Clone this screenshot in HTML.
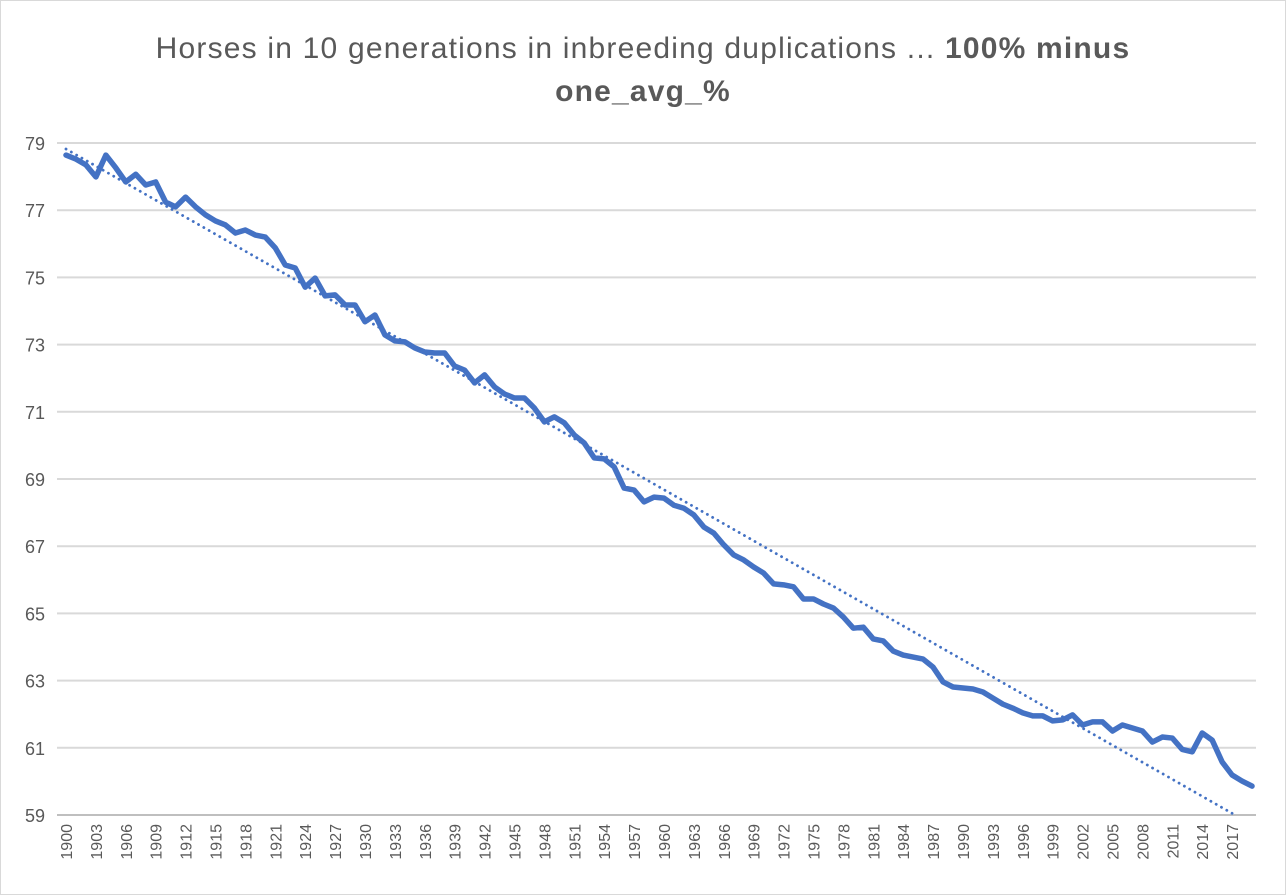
<!DOCTYPE html>
<html><head><meta charset="utf-8"><style>
html,body{margin:0;padding:0;background:#fff;}
svg{display:block;font-family:"Liberation Sans",sans-serif;}
</style></head><body>
<svg id="chart" width="1286" height="896" xmlns="http://www.w3.org/2000/svg">
<rect x="0.5" y="0.5" width="1285" height="894" fill="#fff" stroke="#d9d9d9"/>
<text x="643" y="58" text-anchor="middle" font-size="30" letter-spacing="1.2" fill="#595959">Horses in 10 generations in inbreeding duplications ... <tspan font-weight="bold">100% minus</tspan></text>
<text x="643" y="101" text-anchor="middle" font-size="30" letter-spacing="1.2" font-weight="bold" fill="#595959">one_avg_%</text>
<g id="grid"></g>
<g id="yt"></g>
<g id="xt"></g>
<g id="series"></g>
</svg>
<script>
const startYear = 1900;
const values = [78.64,78.52,78.35,77.99,78.64,78.26,77.84,78.07,77.75,77.84,77.24,77.1,77.39,77.1,76.86,76.68,76.56,76.32,76.41,76.26,76.2,75.88,75.37,75.28,74.71,74.98,74.45,74.48,74.18,74.18,73.68,73.88,73.29,73.11,73.08,72.9,72.78,72.75,72.75,72.36,72.24,71.86,72.1,71.74,71.53,71.41,71.41,71.11,70.7,70.85,70.67,70.31,70.07,69.63,69.6,69.36,68.73,68.67,68.32,68.46,68.43,68.22,68.13,67.93,67.57,67.39,67.04,66.74,66.59,66.38,66.2,65.88,65.85,65.79,65.43,65.43,65.28,65.16,64.89,64.56,64.59,64.24,64.18,63.88,63.76,63.7,63.64,63.4,62.96,62.81,62.78,62.75,62.66,62.48,62.3,62.18,62.04,61.95,61.95,61.8,61.83,61.98,61.68,61.77,61.77,61.5,61.68,61.59,61.5,61.17,61.32,61.29,60.95,60.88,61.44,61.23,60.58,60.19,60.01,59.86];
const yTicks = [59,61,63,65,67,69,71,73,75,77,79];
const trendEndIndex = 117;
const NS="http://www.w3.org/2000/svg";
const G0=57,G1=1256,X0=61,X1=1257,Y0=143,Y1=815,yMin=59,yMax=79;
const n=values.length, step=(X1-X0)/n;
function x(i){return X0+step*(i+0.5);}
function y(v){return Y1-(v-yMin)/(yMax-yMin)*(Y1-Y0);}
function mk(tag,attrs,parent){const e=document.createElementNS(NS,tag);for(const k in attrs)e.setAttribute(k,attrs[k]);parent.appendChild(e);return e;}
const grid=document.getElementById('grid'),yt=document.getElementById('yt'),xt=document.getElementById('xt'),ser=document.getElementById('series');
yTicks.forEach(t=>{
  const l=mk('line',{x1:G0,x2:G1,y1:y(t),y2:y(t),stroke:t===yMin?'#bfbfbf':'#d9d9d9','stroke-width':2},grid);
  
  
  const tx=mk('text',{x:45,y:y(t)+7,'text-anchor':'end','font-size':18,fill:'#595959'},yt);
  tx.textContent=t;
  
  
});
for(let i=0;i<n;i+=3){
  const yr=startYear+i;
  const tx=mk('text',{transform:`translate(${x(i)+6},824) rotate(-90)`,'text-anchor':'end','font-size':16,fill:'#595959'},xt);
  tx.textContent=yr;
  
  
}
let sx=0,sy=0,sxx=0,sxy=0;
values.forEach((v,i)=>{sx+=i;sy+=v;sxx+=i*i;sxy+=i*v;});
const b=(n*sxy-sx*sy)/(n*sxx-sx*sx),a=(sy-b*sx)/n;
const tr=mk('line',{x1:x(0),y1:y(a),x2:x(trendEndIndex),y2:y(a+b*trendEndIndex),stroke:'#4472c4','stroke-width':2.8,'stroke-dasharray':'0.1 6','stroke-linecap':'round'},ser);


const p=mk('polyline',{points:values.map((v,i)=>x(i)+','+y(v)).join(' '),fill:'none',stroke:'#4472c4','stroke-width':5.5,'stroke-linejoin':'round','stroke-linecap':'round'},ser);


</script>
</body></html>
